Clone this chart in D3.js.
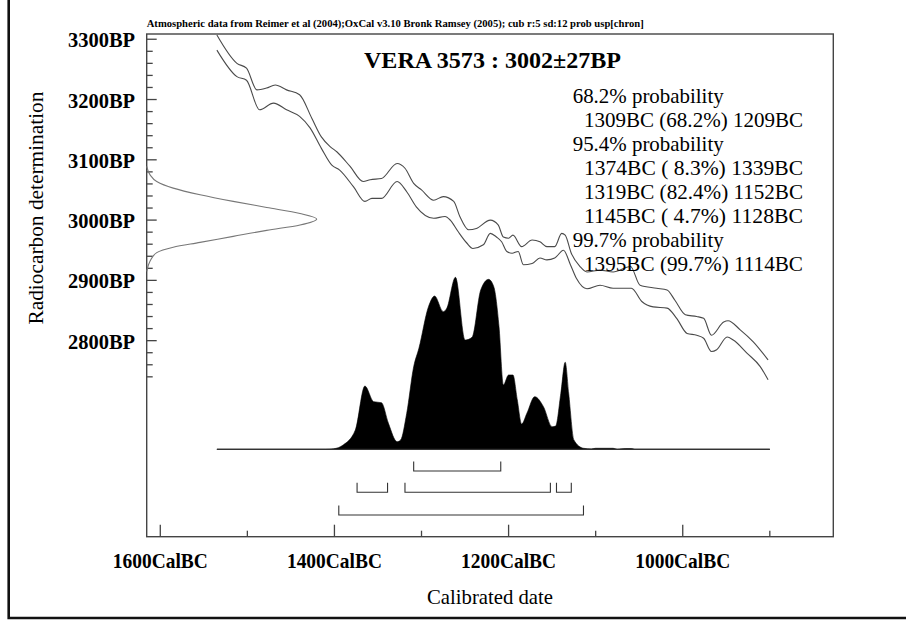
<!DOCTYPE html>
<html><head><meta charset="utf-8">
<script src="https://cdn.jsdelivr.net/npm/d3@7"></script>
<style>
body{margin:0;background:#fff}
svg{display:block}
text{font-family:"Liberation Serif","Times New Roman",serif;fill:#000}
</style>
</head><body>
<svg id="c" width="906" height="620"></svg>
<script>
// ---------------- data ----------------
const noteText = "Atmospheric data from Reimer et al (2004);OxCal v3.10 Bronk Ramsey (2005); cub r:5 sd:12 prob usp[chron]";
const titleText = "VERA 3573 : 3002\u00B127BP";
const xLabel = "Calibrated date";
const yLabel = "Radiocarbon determination";

const xMajorTicks = [1600, 1400, 1200, 1000];
const xTickLabels = ["1600CalBC", "1400CalBC", "1200CalBC", "1000CalBC"];
const xMinorTicks = [1500, 1300, 1100, 900];

const yMajorTicks = [3300, 3200, 3100, 3000, 2900, 2800];
const yTickLabels = ["3300BP", "3200BP", "3100BP", "3000BP", "2900BP", "2800BP"];
const yMinorTicks = [3280, 3260, 3240, 3220, 3180, 3160, 3140, 3120, 3080, 3060, 3040, 3020,
                     2980, 2960, 2940, 2920, 2880, 2860, 2840, 2820, 2780, 2760, 2740];

// calibration curve envelope (cal BC, BP)
const upperBC = [1535,1512,1501,1489,1478,1468,1455,1440,1426,1415,1405,1397,1382,1367,1359,1346,1328,1319,1309,1300,1286,1275,1263,1256,1246,1237,1221,1212,1206,1200,1195,1185,1173,1164,1156,1147,1139,1135,1128,1118,1110,1095,1080,1060,1049,1030,1018,1009,997,984,976,967,953,948,934,919,902];
const upperBP = [3307,3260,3252,3216,3219,3224,3216,3208,3169,3138,3122,3113,3089,3064,3067,3069,3094,3086,3061,3050,3033,3039,3031,3006,2984,2986,3000,2992,2972,2970,2975,2956,2967,2964,2956,2956,2978,2975,2945,2923,2914,2917,2914,2923,2892,2887,2884,2867,2843,2840,2837,2809,2831,2833,2818,2798,2768];
const lowerBC = [1535,1512,1501,1486,1470,1455,1440,1428,1415,1403,1394,1378,1365,1357,1346,1328,1317,1306,1286,1273,1267,1258,1248,1241,1229,1221,1214,1208,1202,1196,1189,1183,1173,1164,1156,1147,1137,1129,1122,1110,1095,1080,1059,1047,1034,1018,1007,995,984,976,967,961,949,942,926,911,902];
const lowerBP = [3282,3238,3232,3183,3194,3183,3172,3153,3119,3091,3083,3055,3031,3036,3036,3064,3047,3022,3003,3006,3000,2981,2962,2953,2959,2978,2972,2964,2948,2945,2948,2926,2928,2937,2934,2937,2950,2926,2903,2886,2892,2887,2887,2865,2856,2854,2837,2812,2809,2804,2782,2785,2806,2801,2779,2757,2735];

// radiocarbon measurement (BP, relative density)
const measBP = [3089,3075,3064,3053,3042,3031,3021,3011,3002,2992,2983,2973,2963,2955,2946,2932,2915];
const measDensity = [0,0.02,0.059,0.156,0.314,0.509,0.706,0.902,1.0,0.902,0.706,0.509,0.314,0.156,0.059,0.02,0];

// calibrated probability distribution (cal BC, relative probability)
const distBC = [1535,1410,1401,1390,1376,1365,1355,1346,1338,1328,1324,1317,1309,1303,1292,1285,1275,1271,1261,1250,1242,1232,1223,1217,1211,1206,1200,1195,1190,1185,1179,1170,1160,1150,1146,1140,1135,1131,1125,1114,1105,1100,1080,1075,1066,1059,1055,900];
const distP  = [0,0,0.003,0.025,0.112,0.368,0.277,0.271,0.151,0.044,0.054,0.209,0.48,0.587,0.829,0.891,0.80,0.82,1.0,0.635,0.651,0.926,0.988,0.945,0.713,0.374,0.432,0.432,0.287,0.147,0.209,0.306,0.248,0.131,0.135,0.326,0.506,0.326,0.054,0.006,0.002,0.006,0.006,0,0.004,0.004,0,0];

// probability ranges
const ranges68 = [[1309, 1209]];
const ranges95 = [[1374, 1339], [1319, 1152], [1145, 1128]];
const ranges99 = [[1395, 1114]];

const probText = ["68.2% probability", "1309BC (68.2%) 1209BC",
                  "95.4% probability", "1374BC ( 8.3%) 1339BC", "1319BC (82.4%) 1152BC", "1145BC ( 4.7%) 1128BC",
                  "99.7% probability", "1395BC (99.7%) 1114BC"];
const probIsHeader = [true, false, true, false, false, false, true, false];

// ---------------- layout ----------------
const L = 146.7, R = 833.3, T = 34, B = 536.7;
const svg = d3.select("#c");
const x = d3.scaleLinear().domain([1615.6, 827.1]).range([L, R]);
const y = d3.scaleLinear().domain([3308.7, 2474.8]).range([T, B]);
const yP = d3.scaleLinear().domain([0, 1]).range([449.3, 277.3]);
const gx = d3.scaleLinear().domain([0, 1]).range([L, 316.7]);
const lineCol = "#4a4a4a";

// outer frame (left + bottom visible)
svg.append("path").attr("d", "M8.7,0 V618 H906").attr("fill", "none")
   .attr("stroke", "#111").attr("stroke-width", 2.6);

// note
svg.append("text").attr("x", L).attr("y", 27).attr("font-size", 10).attr("font-weight", "bold")
   .attr("textLength", 497).attr("lengthAdjust", "spacingAndGlyphs").text(noteText);

// plot box
svg.append("rect").attr("x", L).attr("y", T).attr("width", R - L).attr("height", B - T)
   .attr("fill", "none").attr("stroke", "#444").attr("stroke-width", 1.4);

// x ticks
const xt = svg.append("g").attr("stroke", "#444").attr("stroke-width", 1.3);
xt.selectAll("line.maj").data(xMajorTicks).join("line").attr("class", "maj")
  .attr("x1", d => x(d)).attr("x2", d => x(d)).attr("y1", B).attr("y2", B - 12);
xt.selectAll("line.min").data(xMinorTicks).join("line").attr("class", "min")
  .attr("x1", d => x(d)).attr("x2", d => x(d)).attr("y1", B).attr("y2", B - 6);
svg.selectAll("text.xl").data(xMajorTicks).join("text").attr("class", "xl")
  .attr("x", d => x(d)).attr("y", 567.5).attr("text-anchor", "middle")
  .attr("font-size", 21).attr("font-weight", "bold")
  .attr("textLength", 95).attr("lengthAdjust", "spacingAndGlyphs")
  .text((d, i) => xTickLabels[i]);

// y ticks
const yt = svg.append("g").attr("stroke", "#444").attr("stroke-width", 1.3);
yt.selectAll("line.maj").data(yMajorTicks).join("line").attr("class", "maj")
  .attr("x1", L).attr("x2", L + 10).attr("y1", d => y(d)).attr("y2", d => y(d));
yt.selectAll("line.min").data(yMinorTicks).join("line").attr("class", "min")
  .attr("x1", L).attr("x2", L + 6).attr("y1", d => y(d)).attr("y2", d => y(d));
svg.selectAll("text.yl").data(yMajorTicks).join("text").attr("class", "yl")
  .attr("x", 135).attr("y", d => y(d) + 8).attr("text-anchor", "end")
  .attr("font-size", 20).attr("font-weight", "bold")
  .attr("textLength", 67).attr("lengthAdjust", "spacingAndGlyphs")
  .text((d, i) => yTickLabels[i]);

// axis titles
svg.append("text").attr("x", (L + R) / 2).attr("y", 603.5).attr("text-anchor", "middle")
   .attr("font-size", 21).attr("textLength", 126).attr("lengthAdjust", "spacingAndGlyphs").text(xLabel);
const yMid = (y(3300) + y(2740)) / 2;
svg.append("text").attr("transform", `translate(42.5,${yMid}) rotate(-90)`)
   .attr("text-anchor", "middle").attr("font-size", 21)
   .attr("textLength", 233).attr("lengthAdjust", "spacingAndGlyphs").text(yLabel);

// measurement gaussian
svg.append("path").datum(measBP.map((d, i) => [measDensity[i], d]))
   .attr("d", d3.line().x(d => gx(d[0])).y(d => y(d[1])).curve(d3.curveMonotoneY))
   .attr("fill", "none").attr("stroke", "#777").attr("stroke-width", 1.1);

// calibration curve
const cline = d3.line().x(d => x(d[0])).y(d => y(d[1])).curve(d3.curveMonotoneX);
svg.append("path").datum(upperBC.map((d, i) => [d, upperBP[i]])).attr("d", cline)
   .attr("fill", "none").attr("stroke", lineCol).attr("stroke-width", 1.1);
svg.append("path").datum(lowerBC.map((d, i) => [d, lowerBP[i]])).attr("d", cline)
   .attr("fill", "none").attr("stroke", lineCol).attr("stroke-width", 1.1);

// distribution
const dist = distBC.map((d, i) => [d, distP[i]]);
svg.append("path").datum(dist)
   .attr("d", d3.area().x(d => x(d[0])).y0(yP(0)).y1(d => yP(d[1])).curve(d3.curveMonotoneX))
   .attr("fill", "#000").attr("stroke", "#000").attr("stroke-width", 0.6);
svg.append("line").attr("x1", x(distBC[0])).attr("x2", x(distBC[distBC.length - 1]))
   .attr("y1", yP(0)).attr("y2", yP(0)).attr("stroke", "#333").attr("stroke-width", 1.2);

// range brackets
const bracketGroups = [[ranges68, 471], [ranges95, 492.3], [ranges99, 515]];
bracketGroups.forEach(([rs, yy]) => {
  svg.append("g").selectAll("path").data(rs).join("path")
    .attr("d", d => `M${x(d[0])},${yy - 9.5} V${yy} H${x(d[1])} V${yy - 9.5}`)
    .attr("fill", "none").attr("stroke", "#333").attr("stroke-width", 1.1);
});

// title
svg.append("text").attr("x", 364).attr("y", 68.3).attr("font-size", 23).attr("font-weight", "bold")
   .attr("textLength", 257).attr("lengthAdjust", "spacingAndGlyphs").text(titleText);

// probability text
svg.selectAll("text.pt").data(probText).join("text").attr("class", "pt")
   .attr("x", (d, i) => probIsHeader[i] ? 572.7 : 584)
   .attr("y", (d, i) => 103.3 + i * 24)
   .attr("font-size", 21.5)
   .attr("textLength", (d, i) => probIsHeader[i] ? 151 : 219)
   .attr("lengthAdjust", "spacingAndGlyphs")
   .attr("xml:space", "preserve")
   .text(d => d);
</script>
</body></html>
